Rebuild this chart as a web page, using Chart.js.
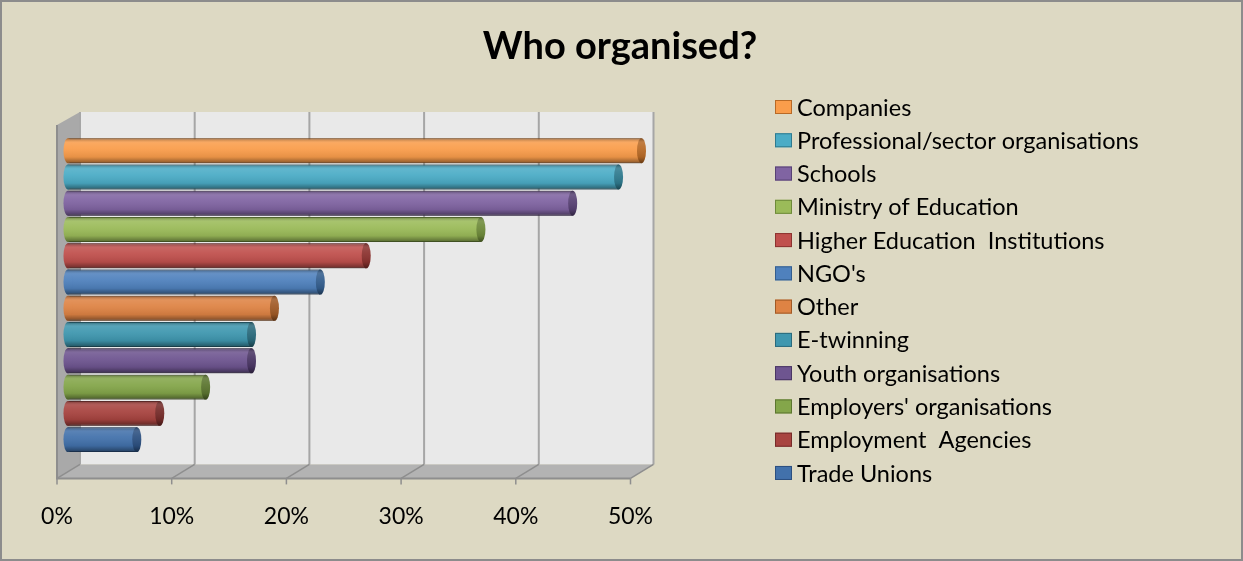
<!DOCTYPE html>
<html>
<head>
<meta charset="utf-8">
<title>Who organised?</title>
<script src="https://cdn.jsdelivr.net/npm/chart.js@4.4.1/dist/chart.umd.min.js"></script>
<style>
    html, body { margin: 0; padding: 0; background: #DDD9C3; }
    #wrap { width: 1243px; height: 561px; }
</style>
</head>
<body>
<div id="wrap"><canvas id="orgChart" width="1243" height="561"></canvas></div>
<script>
// Organisers, top bar first
const categories = [
    "Companies",
    "Professional/sector organisations",
    "Schools",
    "Ministry of Education",
    "Higher Education  Institutions",
    "NGO's",
    "Other",
    "E-twinning",
    "Youth organisations",
    "Employers' organisations",
    "Employment  Agencies",
    "Trade Unions"
];
// Share of answers, in percent
const values = [50, 48, 44, 36, 26, 22, 18, 16, 16, 12, 8, 6];
const barColors = ["#FA9D4B", "#4BACC6", "#8064A2", "#9BBB59", "#C0504D", "#4F81BD",
                   "#DE8344", "#3F97AF", "#6E5590", "#84A64A", "#A84440", "#4271AB"];
const edgeColors = ["#B86A26", "#2F7A8E", "#584274", "#6E8A3A", "#8C3330", "#345E8E",
                    "#A05A26", "#2A6A7C", "#4A3664", "#5C7630", "#762C2A", "#2C5080"];
const tickValues = [0, 10, 20, 30, 40, 50];

// offsets of the 3D box (front edge and back wall) from the bar plane
const FRONT_DX = -11;
const BACK_DX = 12;
const DEPTH_DY = 14;
const CAP_RX = 4.5;

const FONT = "Lato";

// legend geometry
const LEGEND_X = 775;
const LEGEND_Y = 107;
const LEGEND_STEP = 33.27;

// background, border and the grey 3D walls behind the bars
const frame = {
    id: "frame",
    beforeDraw(chart) {
        const ctx = chart.ctx;
        ctx.save();
        ctx.fillStyle = "#DDD9C3";
        ctx.fillRect(0, 0, chart.width, chart.height);
        ctx.strokeStyle = "#8C8C8C";
        ctx.lineWidth = 2;
        ctx.strokeRect(1, 1, chart.width - 2, chart.height - 2);
        ctx.restore();
    },
    beforeDatasetsDraw(chart) {
        const ctx = chart.ctx;
        const a = chart.chartArea;
        const x = chart.scales.x;
        const l = x.getPixelForValue(x.min);
        const r = x.getPixelForValue(x.max);
        const backBottom = a.bottom - DEPTH_DY;

        ctx.save();
        // back wall
        ctx.fillStyle = "#E9E9E9";
        ctx.fillRect(l + BACK_DX, a.top, r - l, backBottom - a.top);

        // left side wall
        ctx.fillStyle = "#A9A9A9";
        ctx.beginPath();
        ctx.moveTo(l + FRONT_DX, a.top + 13);
        ctx.lineTo(l + BACK_DX, a.top);
        ctx.lineTo(l + BACK_DX, backBottom);
        ctx.lineTo(l + FRONT_DX, a.bottom);
        ctx.closePath();
        ctx.fill();

        // floor
        ctx.fillStyle = "#B3B3B3";
        ctx.beginPath();
        ctx.moveTo(l + FRONT_DX, a.bottom);
        ctx.lineTo(l + BACK_DX, backBottom);
        ctx.lineTo(r + BACK_DX, backBottom);
        ctx.lineTo(r + FRONT_DX, a.bottom);
        ctx.closePath();
        ctx.fill();

        // grid lines on the back wall and across the floor
        tickValues.forEach(v => {
            const px = x.getPixelForValue(v);
            ctx.strokeStyle = "#A6A6A6";
            ctx.lineWidth = 2;
            ctx.beginPath();
            ctx.moveTo(px + BACK_DX, a.top);
            ctx.lineTo(px + BACK_DX, backBottom);
            ctx.stroke();

            ctx.strokeStyle = "#8E8E8E";
            ctx.lineWidth = 1.5;
            ctx.beginPath();
            ctx.moveTo(px + FRONT_DX, a.bottom);
            ctx.lineTo(px + BACK_DX, backBottom);
            ctx.stroke();

            // tick marks under the front edge
            ctx.beginPath();
            ctx.moveTo(px + FRONT_DX, a.bottom);
            ctx.lineTo(px + FRONT_DX, a.bottom + 6);
            ctx.stroke();
        });

        // front edges
        ctx.strokeStyle = "#8E8E8E";
        ctx.lineWidth = 2;
        ctx.beginPath();
        ctx.moveTo(l + FRONT_DX, a.top + 13);
        ctx.lineTo(l + FRONT_DX, a.bottom);
        ctx.lineTo(r + FRONT_DX, a.bottom);
        ctx.stroke();
        ctx.restore();
    },
    // cylinder shading and end caps over each bar
    afterDatasetsDraw(chart) {
        const ctx = chart.ctx;
        ctx.save();
        chart.data.datasets.forEach((ds, i) => {
            chart.getDatasetMeta(i).data.forEach(bar => {
                const p = bar.getProps(["x", "y", "base", "height"], true);
                const top = p.y - p.height / 2;
                const shade = ctx.createLinearGradient(0, top, 0, top + p.height);
                shade.addColorStop(0, "rgba(0,0,0,0.35)");
                shade.addColorStop(0.18, "rgba(255,255,255,0.12)");
                shade.addColorStop(0.4, "rgba(255,255,255,0.06)");
                shade.addColorStop(0.75, "rgba(0,0,0,0.08)");
                shade.addColorStop(1, "rgba(0,0,0,0.45)");

                // left end
                ctx.fillStyle = ds.backgroundColor;
                ctx.beginPath();
                ctx.ellipse(p.base, p.y, CAP_RX, p.height / 2, 0, 0, Math.PI * 2);
                ctx.fill();

                ctx.fillStyle = shade;
                ctx.beginPath();
                ctx.ellipse(p.base, p.y, CAP_RX, p.height / 2, 0, Math.PI / 2, Math.PI * 1.5);
                ctx.lineTo(p.x, top);
                ctx.lineTo(p.x, top + p.height);
                ctx.closePath();
                ctx.fill();

                // tip cap
                ctx.fillStyle = ds.borderColor;
                ctx.beginPath();
                ctx.ellipse(p.x, p.y, CAP_RX, p.height / 2, 0, 0, Math.PI * 2);
                ctx.fill();
                ctx.fillStyle = shade;
                ctx.fill();
            });
        });
        ctx.restore();
    },
    // legend column on the right
    afterDraw(chart) {
        const ctx = chart.ctx;
        ctx.save();
        ctx.font = "23.5px " + FONT;
        ctx.textBaseline = "middle";
        ctx.textAlign = "left";
        chart.data.datasets.forEach((ds, i) => {
            const cy = LEGEND_Y + i * LEGEND_STEP;
            ctx.fillStyle = ds.backgroundColor;
            ctx.fillRect(LEGEND_X, cy - 7, 17, 14);
            ctx.strokeStyle = ds.borderColor;
            ctx.lineWidth = 1;
            ctx.strokeRect(LEGEND_X + 0.5, cy - 6.5, 16, 13);
            ctx.fillStyle = "#000";
            ctx.fillText(ds.label, LEGEND_X + 22, cy + 1);
        });
        ctx.restore();
    }
};

const datasets = categories.map((name, i) => ({
    label: name,
    data: [values[i]],
    backgroundColor: barColors[i],
    borderColor: edgeColors[i],
    borderWidth: 1,
    borderSkipped: false,
    categoryPercentage: 0.86,
    barPercentage: 0.95
}));

const ctx = document.getElementById("orgChart").getContext("2d");
const orgChart = new Chart(ctx, {
    type: "bar",
    data: {
        labels: [""],
        datasets: datasets
    },
    plugins: [frame],
    options: {
        indexAxis: "y",
        responsive: false,
        animation: false,
        layout: {
            padding: { left: 68, right: 71, top: 0, bottom: 7 }
        },
        plugins: {
            title: {
                display: true,
                text: "Who organised?",
                color: "#000",
                font: { family: FONT, size: 38, weight: "bold" },
                padding: { top: 24, bottom: 42.4 }
            },
            legend: { display: false },
            tooltip: { enabled: false }
        },
        scales: {
            x: {
                min: 0,
                max: 50,
                afterBuildTicks: s => { s.ticks = tickValues.map(v => ({ value: v })); },
                ticks: {
                    callback: v => v + "%",
                    color: "#000",
                    font: { family: FONT, size: 23 },
                    padding: 24,
                    labelOffset: FRONT_DX
                },
                grid: { display: false, drawTicks: false },
                border: { display: false }
            },
            y: {
                type: "category",
                display: false
            },
            // space between the plot and the legend column
            yRight: {
                type: "linear",
                position: "right",
                grid: { display: false, drawTicks: false },
                border: { display: false },
                ticks: { display: false },
                afterFit: s => { s.width = 530.5; }
            }
        }
    }
});
</script>
</body>
</html>
